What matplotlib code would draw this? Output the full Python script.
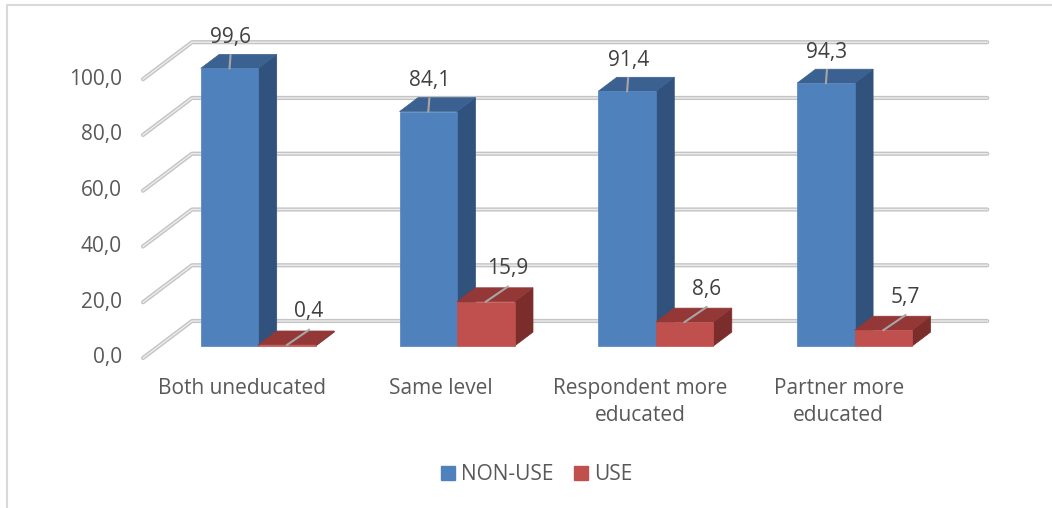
import matplotlib.pyplot as plt
from matplotlib.patches import Polygon, Patch
from matplotlib.lines import Line2D

plt.rcParams['font.family'] = ['Open Sans', 'DejaVu Sans']

categories = ['Both uneducated', 'Same level', 'Respondent more\neducated', 'Partner more\neducated']
non_use = [99.6, 84.1, 91.4, 94.3]
use = [0.4, 15.9, 8.6, 5.7]
yticks = [0, 20, 40, 60, 80, 100]

# face colours: front, top, side
blue = ('#4f81bd', '#3b6190', '#31527c')
red = ('#c0504d', '#933836', '#7b2d2b')

W, H = 1052, 508
px_cat = 198.8     # pixels per category
px_val = 2.788     # pixels per value unit
ox, oy = 242.4, 358.0   # pixel position of (0, 0) on the floor front edge
DX = 49 / px_cat    # depth vector, whole floor
DY = 37 / px_val
bw = 57.5 / px_cat  # bar width
z0, z1 = 0.324, 0.70    # bar front / back depth
fs = 15


def pt(x, v, z):
    return (x + z * DX, v + z * DY)


fig = plt.figure(figsize=(W / 100, H / 100), dpi=100)
ax = fig.add_axes([0, 0, 1, 1])
ax.set_xlim(-ox / px_cat, (W - ox) / px_cat)
ax.set_ylim((oy - H) / px_val, oy / px_val)
ax.axis('off')

# side wall and back wall grid lines
for v in yticks:
    xs, ys = zip(pt(-0.5, v, 0), pt(-0.5, v, 1), pt(3.5, v, 1))
    ax.plot(xs, ys, color='#c4c4c4', lw=3, solid_capstyle='round', solid_joinstyle='round', zorder=1)
    ax.plot(xs, ys, color='#ececec', lw=1, solid_joinstyle='round', zorder=1.1)
    ax.annotate(f'{v:.1f}'.replace('.', ','), xy=pt(-0.5, v, 0), xytext=(-21, 0),
                textcoords='offset pixels', ha='right', va='center', fontsize=fs, color='#595959')


def bar3d(x, h, cols):
    a, b = x, x + bw
    front = [pt(a, 0, z0), pt(b, 0, z0), pt(b, h, z0), pt(a, h, z0)]
    top = [pt(a, h, z0), pt(b, h, z0), pt(b, h, z1), pt(a, h, z1)]
    side = [pt(b, 0, z0), pt(b, 0, z1), pt(b, h, z1), pt(b, h, z0)]
    ax.add_patch(Polygon(side, closed=True, fc=cols[2], ec=cols[2], lw=0.5, zorder=2))
    ax.add_patch(Polygon(top, closed=True, fc=cols[1], ec=cols[1], lw=0.5, zorder=2))
    ax.add_patch(Polygon(front, closed=True, fc=cols[0], ec=cols[0], lw=0.5, zorder=2))


def label(x, h, lead):
    # leader line from the front top edge, value text above it
    sx, sy = pt(x + bw / 2, h, z0)
    ex, ey = sx + lead[0] / px_cat, sy + lead[1] / px_val
    ax.plot([sx, ex], [sy, ey], color='#a6a6a6', lw=1.5, zorder=5)
    ax.annotate(f'{h:.1f}'.replace('.', ','), xy=(ex, ey), xytext=(0, 18),
                textcoords='offset pixels', ha='center', va='center',
                fontsize=fs, color='#404040', zorder=6)


# blue bar left of the category centre, red bar right of it
for i in range(len(categories)):
    bar3d(i - bw, non_use[i], blue)
    bar3d(i, use[i], red)

for i in range(len(categories)):
    label(i - bw, non_use[i], (1, 13))
    label(i, use[i], (22, 15))

for i, c in enumerate(categories):
    ax.annotate(c, xy=(i, 0), xytext=(0, -20), textcoords='offset pixels',
                ha='center', va='top', fontsize=fs, color='#595959', linespacing=1.35)

handles = [Patch(color=blue[0], label='NON-USE'), Patch(color=red[0], label='USE')]
fig.legend(handles=handles, loc='center', bbox_to_anchor=(537 / W, 1 - 475 / H), ncol=2,
           frameon=False, fontsize=fs, labelcolor='#595959', handlelength=0.66,
           handleheight=0.66, handletextpad=0.3, columnspacing=1.0)

# chart frame
fig.add_artist(Line2D([7 / W, 7 / W, 1], [0, 1 - 5 / H, 1 - 5 / H], color='#d9d9d9', lw=1.5))

fig.savefig('out.png', dpi=100)
